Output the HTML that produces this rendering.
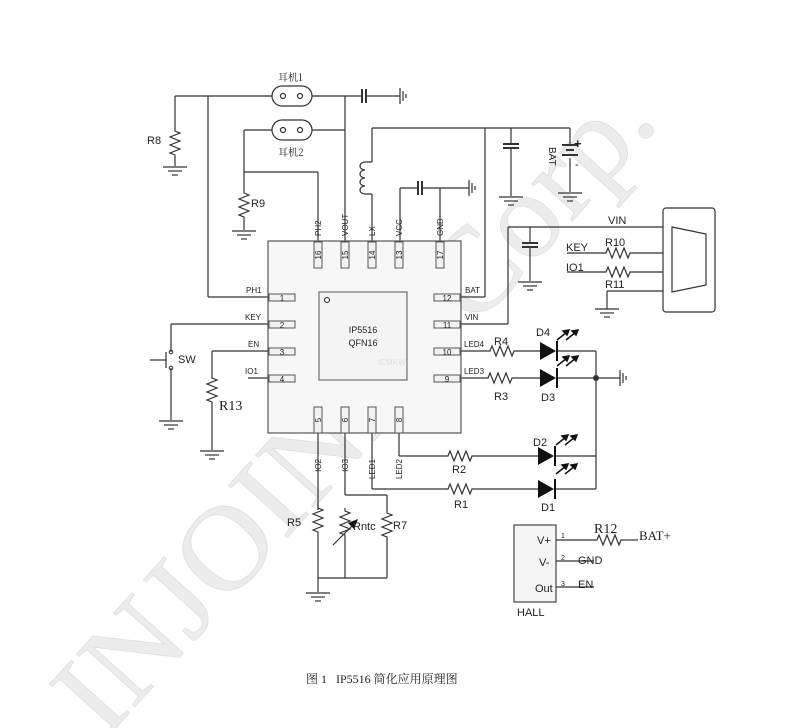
<!DOCTYPE html>
<html><head><meta charset="utf-8"><style>
html,body{margin:0;padding:0;background:#fff;}
svg{display:block;}
text{font-family:"Liberation Sans","DejaVu Sans",sans-serif;fill:#222;}
.s{font-family:"Liberation Serif","Noto Serif CJK SC",serif;}
</style></head><body>
<svg width="793" height="728" viewBox="0 0 793 728" xmlns="http://www.w3.org/2000/svg">
<defs>
<g id="gnd" stroke="#333" stroke-width="1.2"><line x1="-12" y1="0" x2="12" y2="0"/><line x1="-7" y1="4" x2="7" y2="4"/><line x1="-3" y1="8" x2="3" y2="8"/></g>
<path id="rv" d="M0 0 l0 3 l5 2 l-10 4 l10 4 l-10 4 l10 4 l-10 4 l5 2 l0 3" fill="none" stroke="#333" stroke-width="1.2"/>
<path id="rh" d="M0 0 l3 0 l2 -5 l4 10 l4 -10 l4 10 l4 -10 l4 10 l2 -5 l3 0" fill="none" stroke="#333" stroke-width="1.2"/>
<g id="led"><path d="M0 -9 L0 9 L16 0 Z" fill="#111"/><line x1="17" y1="-10" x2="17" y2="10" stroke="#111" stroke-width="2"/></g>
<g id="arr" stroke="#111" stroke-width="1.5" fill="#111"><line x1="0" y1="0" x2="10" y2="-8"/><path d="M12 -10 l-6 1 l4 4z"/><line x1="9" y1="0" x2="19" y2="-8"/><path d="M21 -10 l-6 1 l4 4z"/></g>
</defs>

<text x="0" y="0" transform="translate(105,740) rotate(-48)" class="s" font-size="120" textLength="830" lengthAdjust="spacingAndGlyphs" style="fill:#ececec;stroke:#dedede;stroke-width:0.8">INJOINIC Corp.</text>

<g stroke="#333" stroke-width="1.2" fill="none">
<line x1="175" y1="96" x2="272" y2="96"/><line x1="312" y1="96" x2="362" y2="96"/>
<line x1="366" y1="96" x2="400" y2="96"/>
<line x1="362" y1="89" x2="362" y2="103" stroke-width="2"/><line x1="366" y1="89" x2="366" y2="103" stroke-width="2"/>
<line x1="400" y1="88" x2="400" y2="104"/><line x1="403" y1="91" x2="403" y2="101"/><line x1="406" y1="94" x2="406" y2="98"/>
<line x1="175" y1="96" x2="175" y2="128"/><use href="#rv" x="175" y="128"/><line x1="175" y1="158" x2="175" y2="166"/>
<line x1="208" y1="96" x2="208" y2="297"/><line x1="208" y1="297" x2="269" y2="297"/>
<line x1="345" y1="96" x2="345" y2="241"/>
<rect x="272" y="86" width="40" height="20" rx="10"/><circle cx="283" cy="96" r="2.5"/><circle cx="300" cy="96" r="2.5"/>
<rect x="272" y="120" width="40" height="20" rx="10"/><circle cx="283" cy="130" r="2.5"/><circle cx="300" cy="130" r="2.5"/>
<line x1="312" y1="130" x2="345" y2="130"/><line x1="244" y1="130" x2="272" y2="130"/>
<line x1="244" y1="130" x2="244" y2="190"/><line x1="244" y1="172" x2="318" y2="172"/><line x1="318" y1="172" x2="318" y2="241"/>
<use href="#rv" x="244" y="190"/><line x1="244" y1="220" x2="244" y2="230"/>
<line x1="372" y1="241" x2="372" y2="194"/>
<path d="M372 194 L365 194 a5 4 0 0 1 0 -8 a5 4 0 0 1 0 -8 a5 4 0 0 1 0 -8 a5 4 0 0 1 0 -8 L372 162"/>
<line x1="372" y1="162" x2="372" y2="128"/><line x1="372" y1="128" x2="570" y2="128"/>
<line x1="485" y1="128" x2="485" y2="297"/><line x1="461" y1="297" x2="485" y2="297"/>
<line x1="511" y1="128" x2="511" y2="144"/><line x1="503" y1="144" x2="519" y2="144" stroke-width="2"/><line x1="503" y1="148" x2="519" y2="148" stroke-width="2"/><line x1="511" y1="148" x2="511" y2="196"/>
<line x1="570" y1="128" x2="570" y2="144"/><line x1="562" y1="145" x2="578" y2="145" stroke-width="2"/><line x1="566" y1="150" x2="574" y2="150" stroke-width="2"/><line x1="562" y1="155" x2="578" y2="155" stroke-width="2"/><line x1="570" y1="158" x2="570" y2="192"/>
<line x1="400" y1="241" x2="400" y2="188"/><line x1="400" y1="188" x2="418" y2="188"/>
<line x1="418" y1="181" x2="418" y2="195" stroke-width="2"/><line x1="422" y1="181" x2="422" y2="195" stroke-width="2"/>
<line x1="422" y1="188" x2="469" y2="188"/><line x1="440" y1="188" x2="440" y2="241"/>
<line x1="469" y1="180" x2="469" y2="196"/><line x1="472" y1="183" x2="472" y2="193"/><line x1="475" y1="186" x2="475" y2="190"/>
<line x1="461" y1="324" x2="508" y2="324"/><line x1="508" y1="324" x2="508" y2="227"/><line x1="508" y1="227" x2="663" y2="227"/>
<line x1="530" y1="227" x2="530" y2="243"/><line x1="522" y1="243" x2="538" y2="243" stroke-width="2"/><line x1="522" y1="247" x2="538" y2="247" stroke-width="2"/><line x1="530" y1="247" x2="530" y2="281"/>
<line x1="567" y1="253" x2="603" y2="253"/><use href="#rh" x="603" y="253"/><line x1="633" y1="253" x2="663" y2="253"/>
<line x1="567" y1="272" x2="603" y2="272"/><use href="#rh" x="603" y="272"/><line x1="633" y1="272" x2="663" y2="272"/>
<line x1="607" y1="291" x2="663" y2="291"/><line x1="607" y1="291" x2="607" y2="309"/>
<rect x="663" y="208" width="52" height="104" rx="3"/>
<path d="M672 227 L706 234 L706 285 L672 292 Z"/>
<line x1="461" y1="351" x2="487" y2="351"/><use href="#rh" x="487" y="351"/><line x1="517" y1="351" x2="540" y2="351"/><line x1="557" y1="351" x2="596" y2="351"/>
<line x1="461" y1="378" x2="485" y2="378"/><use href="#rh" x="485" y="378"/><line x1="515" y1="378" x2="540" y2="378"/><line x1="557" y1="378" x2="620" y2="378"/>
<line x1="596" y1="351" x2="596" y2="489"/>
<line x1="620" y1="370" x2="620" y2="386"/><line x1="623" y1="373" x2="623" y2="383"/><line x1="626" y1="376" x2="626" y2="380"/>
<line x1="399" y1="433" x2="399" y2="456"/><line x1="399" y1="456" x2="445" y2="456"/><use href="#rh" x="445" y="456"/><line x1="475" y1="456" x2="538" y2="456"/><line x1="556" y1="456" x2="596" y2="456"/>
<line x1="372" y1="433" x2="372" y2="489"/><line x1="372" y1="489" x2="445" y2="489"/><use href="#rh" x="445" y="489"/><line x1="475" y1="489" x2="538" y2="489"/><line x1="556" y1="489" x2="596" y2="489"/>
<line x1="318" y1="433" x2="318" y2="510"/><use href="#rv" x="318" y="505"/><line x1="318" y1="535" x2="318" y2="592"/>
<line x1="345" y1="433" x2="345" y2="495"/><line x1="345" y1="495" x2="387" y2="495"/>
<use href="#rv" x="345" y="508"/><line x1="345" y1="538" x2="345" y2="578"/>
<use href="#rv" x="387" y="510"/><line x1="387" y1="495" x2="387" y2="510"/><line x1="387" y1="540" x2="387" y2="578"/>
<line x1="318" y1="578" x2="387" y2="578"/>
<line x1="333" y1="545" x2="354" y2="524"/>
<line x1="171" y1="324" x2="269" y2="324"/><line x1="171" y1="324" x2="171" y2="352"/><line x1="171" y1="368" x2="171" y2="420"/>
<line x1="166" y1="352" x2="166" y2="368"/><line x1="150" y1="360" x2="166" y2="360"/>
<line x1="212" y1="351" x2="269" y2="351"/><line x1="212" y1="351" x2="212" y2="375"/><use href="#rv" x="212" y="375"/><line x1="212" y1="405" x2="212" y2="450"/>
<line x1="248" y1="378" x2="269" y2="378"/>
<rect x="514" y="525" width="42" height="77" fill="#f5f5f5" stroke="#444"/>
<line x1="556" y1="540" x2="594" y2="540"/><use href="#rh" x="594" y="540"/><line x1="624" y1="540" x2="638" y2="540"/>
<line x1="556" y1="561" x2="594" y2="561"/><line x1="556" y1="587" x2="594" y2="587"/>
</g>
<circle cx="171" cy="352" r="1.8" fill="none" stroke="#333"/><circle cx="171" cy="368" r="1.8" fill="none" stroke="#333"/>
<circle cx="596" cy="378" r="3" fill="#333"/>
<use href="#gnd" x="175" y="167"/><use href="#gnd" x="244" y="231"/><use href="#gnd" x="511" y="197"/><use href="#gnd" x="570" y="193"/>
<use href="#gnd" x="530" y="282"/><use href="#gnd" x="607" y="309"/><use href="#gnd" x="318" y="593"/><use href="#gnd" x="171" y="421"/><use href="#gnd" x="212" y="451"/>
<use href="#led" x="540" y="351"/><use href="#arr" x="557" y="340"/>
<use href="#led" x="540" y="378"/><use href="#arr" x="557" y="366"/>
<use href="#led" x="538" y="456"/><use href="#arr" x="556" y="445"/>
<use href="#led" x="538" y="489"/><use href="#arr" x="556" y="474"/>
<path d="M358 519 L348 523 L354 529 Z" fill="#111"/>

<rect x="268" y="241" width="193" height="192" fill="#f7f7f7" stroke="#555" stroke-width="1.2"/>
<rect x="319" y="292" width="88" height="88" fill="#f4f4f4" stroke="#555"/>
<circle cx="327" cy="300" r="2.5" fill="none" stroke="#222"/>
<text x="363" y="333" font-size="9" text-anchor="middle">IP5516</text>
<text x="363" y="346" font-size="9" text-anchor="middle">QFN16</text>
<text x="378" y="365" font-size="8" style="fill:#ddd">ICMKW</text>
<g fill="#f2f2f2" stroke="#555">
<rect x="314" y="242" width="8" height="26"/><rect x="341" y="242" width="8" height="26"/><rect x="368" y="242" width="8" height="26"/><rect x="395" y="242" width="8" height="26"/><rect x="436" y="242" width="8" height="26"/>
<rect x="314" y="407" width="8" height="26"/><rect x="341" y="407" width="8" height="26"/><rect x="368" y="407" width="8" height="26"/><rect x="395" y="407" width="8" height="26"/>
<rect x="269" y="294" width="26" height="7"/><rect x="269" y="321" width="26" height="7"/><rect x="269" y="348" width="26" height="7"/><rect x="269" y="375" width="26" height="7"/>
<rect x="434" y="294" width="26" height="7"/><rect x="434" y="321" width="26" height="7"/><rect x="434" y="348" width="26" height="7"/><rect x="434" y="375" width="26" height="7"/>
</g>
<g font-size="8" text-anchor="middle">
<text x="282" y="301">1</text><text x="282" y="328">2</text><text x="282" y="355">3</text><text x="282" y="382">4</text>
<text x="447" y="301">12</text><text x="447" y="328">11</text><text x="447" y="355">10</text><text x="447" y="382">9</text>
<text transform="translate(321,255) rotate(-90)">16</text><text transform="translate(348,255) rotate(-90)">15</text><text transform="translate(375,255) rotate(-90)">14</text><text transform="translate(402,255) rotate(-90)">13</text><text transform="translate(443,255) rotate(-90)">17</text>
<text transform="translate(321,420) rotate(-90)">5</text><text transform="translate(348,420) rotate(-90)">6</text><text transform="translate(375,420) rotate(-90)">7</text><text transform="translate(402,420) rotate(-90)">8</text>
</g>
<g font-size="8">
<text x="246" y="293">PH1</text><text x="245" y="320">KEY</text><text x="248" y="347">EN</text><text x="245" y="374">IO1</text>
<text x="465" y="293">BAT</text><text x="465" y="320">VIN</text><text x="464" y="347">LED4</text><text x="464" y="374">LED3</text>
<text transform="translate(321,236) rotate(-90)">PH2</text><text transform="translate(348,236) rotate(-90)">VOUT</text><text transform="translate(375,236) rotate(-90)">LX</text><text transform="translate(402,236) rotate(-90)">VCC</text><text transform="translate(443,236) rotate(-90)">GND</text>
<text transform="translate(321,459) rotate(-90)" text-anchor="end">IO2</text><text transform="translate(348,459) rotate(-90)" text-anchor="end">IO3</text><text transform="translate(375,459) rotate(-90)" text-anchor="end">LED1</text><text transform="translate(402,459) rotate(-90)" text-anchor="end">LED2</text>
</g>
<g font-size="11">
<text x="147" y="144">R8</text><text x="251" y="207">R9</text>
<text x="178" y="363">SW</text>
<text x="494" y="345">R4</text><text x="494" y="400">R3</text><text x="536" y="336">D4</text><text x="541" y="401">D3</text>
<text x="533" y="446">D2</text><text x="541" y="511">D1</text><text x="452" y="473">R2</text><text x="454" y="508">R1</text>
<text x="287" y="526">R5</text><text x="353" y="530">Rntc</text><text x="393" y="529">R7</text>
<text x="608" y="224">VIN</text><text x="566" y="251">KEY</text><text x="605" y="246">R10</text><text x="566" y="271">IO1</text><text x="605" y="288">R11</text>
<text x="537" y="544">V+</text><text x="539" y="566">V-</text><text x="535" y="592">Out</text>
<text x="578" y="564">GND</text><text x="578" y="588">EN</text>
<text x="517" y="616">HALL</text>
</g>
<g font-size="7"><text x="561" y="538">1</text><text x="561" y="560">2</text><text x="561" y="586">3</text></g>
<text x="574" y="148" font-size="13" font-weight="bold">+</text><text x="575" y="168" font-size="11">-</text>
<text transform="translate(549,147) rotate(90)" font-size="10">BAT</text>
<text x="219" y="410" font-size="14" class="s">R13</text>
<text x="594" y="533" font-size="14" class="s">R12</text>
<text x="639" y="540" font-size="13" class="s">BAT+</text>
<text x="278" y="81" font-size="10" style="font-family:'Noto Serif CJK SC',serif">耳机1</text>
<text x="278" y="156" font-size="10" style="font-family:'Noto Serif CJK SC',serif">耳机2</text>
<text x="306" y="683" font-size="12" style="font-family:'Liberation Serif','Noto Serif CJK SC',serif">图 1&#160;&#160;&#160;IP5516 简化应用原理图</text>
</svg>
</body></html>
